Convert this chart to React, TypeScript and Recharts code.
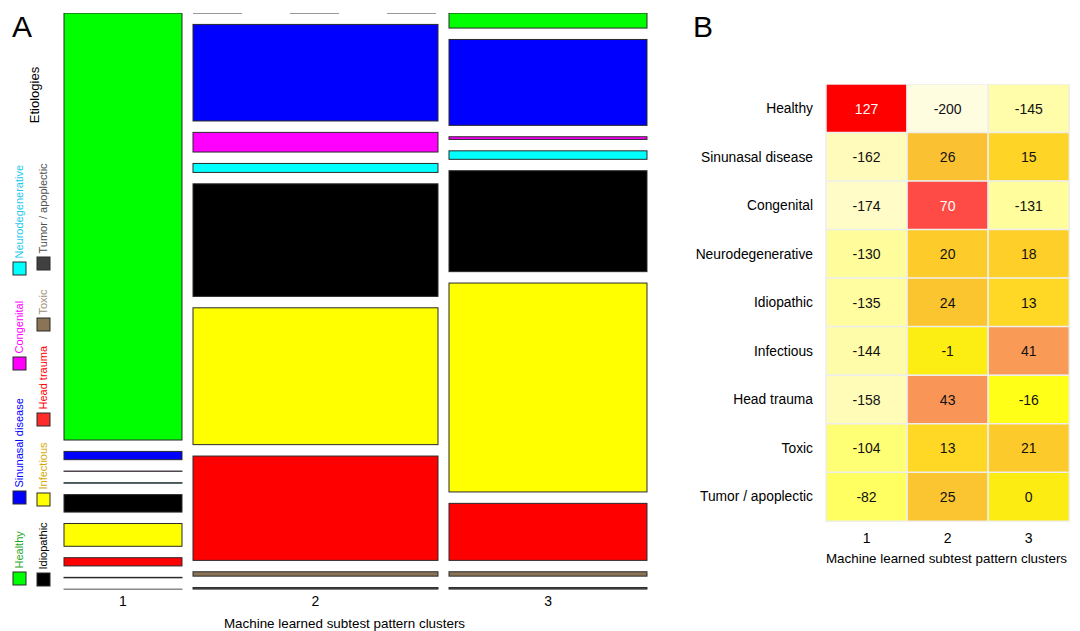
import React from 'react';
import { BarChart, Bar, XAxis, YAxis, LabelList, Cell } from 'recharts';

// ---------- data ----------
const etiologies = [
  'Healthy',
  'Sinunasal disease',
  'Congenital',
  'Neurodegenerative',
  'Idiopathic',
  'Infectious',
  'Head trauma',
  'Toxic',
  'Tumor / apoplectic',
];
const clusters = ['1', '2', '3'];
// share of all patients in each cluster (%), sets mosaic column widths
const clusterSharePct = [21.0, 43.65, 35.35];
// share of each etiology within a cluster (%)
const cluster1Pct = [88.0, 1.7, 0.05, 0.1, 3.6, 4.7, 1.7, 0.1, 0.05];
const cluster2Pct = [0, 19.9, 4.05, 1.85, 23.2, 28.2, 21.5, 0.9, 0.4];
const cluster3Pct = [3.1, 17.7, 0.55, 1.75, 20.8, 43.05, 11.75, 0.9, 0.4];
// heatmap residuals per cluster
const residual1 = [127, -162, -174, -130, -135, -144, -158, -104, -82];
const residual2 = [-200, 26, 70, 20, 24, -1, 43, 13, 25];
const residual3 = [-145, 15, -131, 18, 13, 41, -16, 21, 0];

// ---------- styles ----------
const FONT = '"Liberation Sans", Arial, Helvetica, sans-serif';
const mosaicFill = ['#00ff00', '#0000ff', '#ff00ff', '#00ffff', '#000000', '#ffff00', '#ff0000', '#8b7355', '#404040'];
const legendFill = ['#00ff00', '#0000ff', '#ff00ff', '#00ffff', '#000000', '#ffff00', '#ff2a2a', '#8b7355', '#404040'];
const legendText = ['#1fa81f', '#0000ff', '#ff00ff', '#1ec8f0', '#000000', '#d4aa00', '#ff0000', '#a09078', '#505050'];
// legend layout: [column, square top]
const legendLayout: [number, number][] = [
  [0, 572], [0, 491], [0, 357], [0, 262], [1, 573], [1, 493], [1, 413], [1, 318], [1, 257],
];

const GAP = 2.35; // gap between mosaic tiles, in % units
const TOTAL = 100 + 8 * GAP;
const MOSAIC_LEFT = 64;
const MOSAIC_COL_GAP = 11;
const MOSAIC_AVAIL = 561.3;
const PLOT_TOP = 13;
const PLOT_H = 576.5;

const heatStops: [number, number[]][] = [
  [-200, [255, 253, 224]],
  [-170, [255, 252, 196]],
  [-155, [255, 252, 180]],
  [-130, [255, 253, 155]],
  [-104, [255, 255, 118]],
  [-82, [255, 255, 98]],
  [-16, [255, 255, 24]],
  [0, [252, 236, 18]],
  [13, [254, 216, 36]],
  [20, [253, 204, 42]],
  [26, [250, 194, 50]],
  [41, [249, 155, 87]],
  [70, [255, 75, 69]],
  [127, [255, 0, 0]],
];
function heatColor(v: number): string {
  if (v <= heatStops[0][0]) return `rgb(${heatStops[0][1].join(',')})`;
  for (let i = 1; i < heatStops.length; i++) {
    const [v1, c1] = heatStops[i];
    const [v0, c0] = heatStops[i - 1];
    if (v <= v1) {
      const t = (v - v0) / (v1 - v0);
      const c = c0.map((a, j) => Math.round(a + (c1[j] - a) * t));
      return `rgb(${c.join(',')})`;
    }
  }
  return `rgb(${heatStops[heatStops.length - 1][1].join(',')})`;
}

// ---------- mosaic ----------
function MosaicCell(props: any) {
  const { x, y, width, height, fill, raw } = props;
  if (raw === 0) {
    return <line x1={x} x2={x + width} y1={y} y2={y} stroke="#333" strokeWidth={1} strokeDasharray="49 48" />;
  }
  return <rect x={x} y={y} width={width} height={Math.max(height, 0)} fill={fill} stroke="#2a2a2a" strokeWidth={1} />;
}

function MosaicColumn({ idx, left, width }: { idx: number; left: number; width: number }) {
  const pct = [cluster1Pct, cluster2Pct, cluster3Pct][idx];
  const row: any = { cluster: clusters[idx] };
  etiologies.forEach((_, i) => {
    row['v' + i] = pct[i];
    if (i > 0) row['g' + i] = GAP;
  });
  const order: string[] = [];
  for (let i = etiologies.length - 1; i >= 0; i--) {
    order.push('v' + i);
    if (i > 0) order.push('g' + i);
  }
  return (
    <div style={{ position: 'absolute', left: left - 1, top: PLOT_TOP - 1 }}>
      <BarChart
        width={width + 2}
        height={PLOT_H + 1 + 30}
        data={[row]}
        margin={{ top: 1, right: 1, bottom: 0, left: 1 }}
        barCategoryGap={0}
        barGap={0}
      >
        <XAxis
          dataKey="cluster"
          axisLine={false}
          tickLine={false}
          tickSize={0}
          tickMargin={7}
          height={30}
          tick={{ fontSize: 14, fill: '#000', fontFamily: FONT }}
        />
        <YAxis hide type="number" domain={[0, TOTAL]} allowDataOverflow />
        {order.map((k) => {
          const isGap = k.startsWith('g');
          const ei = Number(k.slice(1));
          if (isGap) {
            return <Bar key={k} dataKey={k} stackId="m" fill="none" stroke="none" isAnimationActive={false} />;
          }
          return (
            <Bar
              key={k}
              dataKey={k}
              stackId="m"
              fill={mosaicFill[ei]}
              isAnimationActive={false}
              shape={(p: any) => <MosaicCell {...p} fill={mosaicFill[ei]} raw={row[k]} />}
            />
          );
        })}
      </BarChart>
    </div>
  );
}

// ---------- heatmap ----------
const heatRows = etiologies.map((e, i) => ({ etiology: e, r1: residual1[i], r2: residual2[i], r3: residual3[i] }));
const heatKeys = ['r1', 'r2', 'r3'];

function HeatLabel(props: any) {
  const { x, y, width, height, value } = props;
  return (
    <text
      x={x + width / 2}
      y={y + height / 2}
      dy="0.36em"
      textAnchor="middle"
      fontSize={14}
      fontFamily={FONT}
      fill={value > 50 ? '#ffffff' : '#111111'}
    >
      {value}
    </text>
  );
}

function Heatmap() {
  return (
    <div style={{ position: 'absolute', left: 680, top: 84 }}>
      <BarChart
        layout="vertical"
        width={400}
        height={480}
        data={heatRows}
        margin={{ top: 0, right: 10.7, bottom: 13.3, left: 0 }}
        barCategoryGap={0}
        barGap={0}
      >
        <XAxis
          type="number"
          domain={[0, 3]}
          ticks={[0.5, 1.5, 2.5]}
          tickFormatter={(v: number) => clusters[Math.floor(v)]}
          axisLine={false}
          tickLine={false}
          tickSize={0}
          tickMargin={12.6}
          height={30}
          tick={{ fontSize: 14, fill: '#000', fontFamily: FONT }}
        />
        <YAxis
          type="category"
          dataKey="etiology"
          width={146}
          axisLine={false}
          tickLine={false}
          tickSize={0}
          tickMargin={13}
          interval={0}
          tick={{ fontSize: 13.8, fill: '#000', fontFamily: FONT }}
        />
        {heatKeys.map((k) => (
          <Bar key={k} dataKey={() => 1} stackId="h" stroke="#eeeeee" strokeWidth={1.5} isAnimationActive={false}>
            {heatRows.map((r: any, i) => (
              <Cell key={i} fill={heatColor(r[k])} />
            ))}
            <LabelList dataKey={k} content={<HeatLabel />} />
          </Bar>
        ))}
      </BarChart>
    </div>
  );
}

// ---------- app ----------
export default function App() {
  const widths = clusterSharePct.map((s) => (s / 100) * MOSAIC_AVAIL);
  const lefts: number[] = [];
  let acc = MOSAIC_LEFT;
  widths.forEach((w) => {
    lefts.push(acc);
    acc += w + MOSAIC_COL_GAP;
  });
  return (
    <div style={{ position: 'absolute', left: 0, top: 0, width: 1080, height: 631, background: '#fff', fontFamily: FONT }}>
      {widths.map((w, i) => (
        <MosaicColumn key={i} idx={i} left={lefts[i]} width={w} />
      ))}
      <Heatmap />
      <svg width={1080} height={631} style={{ position: 'absolute', left: 0, top: 0, pointerEvents: 'none' }}>
        <text x={12} y={36.7} fontSize={30} fontFamily={FONT} fill="#000">A</text>
        <text x={693} y={36.7} fontSize={30} fontFamily={FONT} fill="#000">B</text>
        <text x={38.7} y={95} fontSize={13} fontFamily={FONT} fill="#000" textAnchor="middle" transform="rotate(-90 38.7 95)">
          Etiologies
        </text>
        {etiologies.map((e, i) => {
          const [col, top] = legendLayout[i];
          const sx = col === 0 ? 13 : 37;
          const bx = col === 0 ? 22.5 : 47;
          const by = top - 3.5;
          return (
            <g key={e}>
              <rect x={sx} y={top} width={13} height={13} fill={legendFill[i]} stroke="#2a2a2a" strokeWidth={1} />
              <text x={bx} y={by} fontSize={11} fontFamily={FONT} fill={legendText[i]} transform={`rotate(-90 ${bx} ${by})`}>
                {e}
              </text>
            </g>
          );
        })}
        <text x={344.5} y={628} fontSize={13.4} fontFamily={FONT} fill="#000" textAnchor="middle">
          Machine learned subtest pattern clusters
        </text>
        <text x={946.5} y={563.3} fontSize={13.4} fontFamily={FONT} fill="#000" textAnchor="middle">
          Machine learned subtest pattern clusters
        </text>
      </svg>
    </div>
  );
}
